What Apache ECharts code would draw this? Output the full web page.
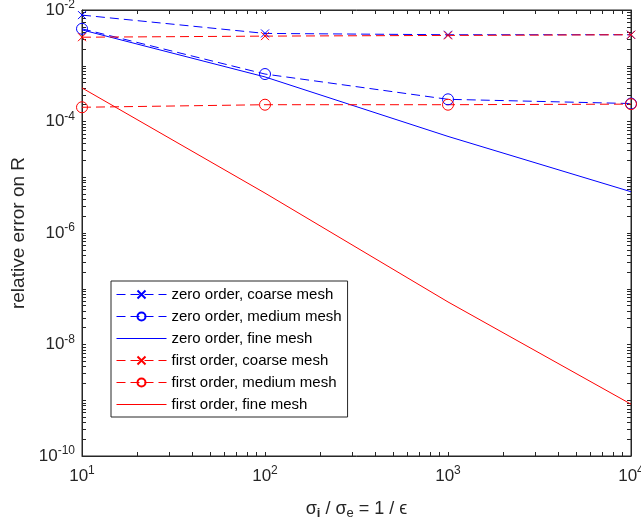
<!DOCTYPE html>
<html><head><meta charset="utf-8">
<script src="https://cdn.jsdelivr.net/npm/echarts@6/dist/echarts.min.js"></script>
<style>html,body{margin:0;padding:0;background:#fff;overflow:hidden}#c{width:641px;height:526px}</style>
</head><body><div id="c"></div>
<script>
// ---- data ----
const xValues = [10, 100, 1000, 10000];
const zeroCoarse  = [8.1e-3, 3.8e-3, 3.6e-3, 3.6e-3];
const zeroMedium  = [4.6e-3, 7.1e-4, 2.5e-4, 2.1e-4];
const zeroFine    = [4.4e-3, 6.3e-4, 5.4e-5, 5.5e-6];
const firstCoarse = [3.25e-3, 3.4e-3, 3.5e-3, 3.6e-3];
const firstMedium = [1.8e-4, 2.0e-4, 2.0e-4, 2.05e-4];
const firstFine   = [4.0e-4, 5.2e-6, 5.8e-8, 8.5e-10];
const seriesNames = ['zero order, coarse mesh','zero order, medium mesh','zero order, fine mesh',
                     'first order, coarse mesh','first order, medium mesh','first order, fine mesh'];
const yLabelExponents = [-10, -8, -6, -4, -2];
const xLabelExponents = [1, 2, 3, 4];
const minorMantissas = [1,2,3,4,5,6,7,8,9];
const xMin = 10, xMax = 10000, yMin = 1e-10, yMax = 1e-2;

const axisColor = '#262626';
const FONT = 'Liberation Sans, Arial, sans-serif';
const BLUE = '#0000ff', RED = '#ff0000';
const xMark = 'path://M0,0L10,10M10,0L0,10';
const dash = [9, 5];

// tick positions (1..9 x 10^n inside each decade)
const xTickValues = [], yTickValues = [];
for (let e = 1; e <= 4; e++) for (const m of minorMantissas) { const v = m * Math.pow(10, e); if (v <= xMax * 1.0001) xTickValues.push(v); }
for (let e = -10; e <= -2; e++) for (const m of minorMantissas) { const v = m * Math.pow(10, e); if (v <= yMax * 1.0001) yTickValues.push(v); }

function pairs(vals){ return xValues.map((x,i)=>[x, vals[i]]); }
function mkSeries(name, vals, color, marker, size){
  const s = {
    name, type:'line', data: pairs(vals), z: 3, xAxisIndex:0, yAxisIndex:0,
    lineStyle:{color, width:1, type: marker ? dash : 'solid'},
    itemStyle:{color:'rgba(0,0,0,0)', borderColor: color, borderWidth:1},
    emphasis:{disabled:true}, animation:false
  };
  if (marker){ s.symbol = marker; s.symbolSize = size; s.showSymbol = true; }
  else { s.symbol = 'none'; s.showSymbol = false; }
  return s;
}
const labRich = {
  b:{fontSize:17, fontFamily:FONT, color:axisColor},
  s:{fontSize:12, fontFamily:FONT, color:axisColor, padding:[0,0,10,0]}
};
const legendData = seriesNames.map((n, i) => (i === 2 || i === 5) ? {name:n, itemStyle:{opacity:0}} : {name:n});

const tickX = {show:true, inside:true, length:4, customValues:xTickValues, lineStyle:{color:axisColor, width:1}};
const tickY = {show:true, inside:true, length:4, customValues:yTickValues, lineStyle:{color:axisColor, width:1}};
const axLine = {show:true, lineStyle:{color:axisColor, width:1}};

const chart = echarts.init(document.getElementById('c'), null, {renderer:'canvas'});
chart.setOption({
  animation:false,
  grid:{left:82, right:10, top:10, bottom:70, outerBoundsMode:'none', containLabel:false,
        show:true, borderColor:axisColor, borderWidth:1, backgroundColor:'transparent'},
  xAxis:[{
    type:'log', logBase:10, min:xMin, max:xMax, position:'bottom',
    axisLine:axLine, axisTick:tickX, splitLine:{show:false}, minorTick:{show:false},
    axisLabel:{margin:9, formatter:(v)=>{const e=Math.round(Math.log10(v)); return xLabelExponents.includes(e)?'{b|10}{s|'+e+'}':'';}, rich:labRich},
    name:'{a|σ}{i|i}{a| / σ}{e|e}{a| = 1 / ϵ}', nameLocation:'middle', nameGap:42,
    nameTextStyle:{rich:{a:{fontSize:18, fontFamily:FONT, color:axisColor}, i:{fontSize:13, fontWeight:'bold', fontFamily:FONT, color:axisColor, padding:[9,0,0,0]}, e:{fontSize:13, fontFamily:FONT, color:axisColor, padding:[9,0,0,0]}}}
  },{
    type:'log', logBase:10, min:xMin, max:xMax, position:'top',
    axisLine:axLine, axisTick:tickX, axisLabel:{show:false}, splitLine:{show:false}, minorTick:{show:false}
  }],
  yAxis:[{
    type:'log', logBase:10, min:yMin, max:yMax, position:'left',
    axisLine:axLine, axisTick:tickY, splitLine:{show:false}, minorTick:{show:false},
    axisLabel:{margin:7, formatter:(v)=>{const e=Math.round(Math.log10(v)); return yLabelExponents.includes(e)?'{b|10}{s|'+e+'}':'';}, rich:labRich},
    name:'relative error on R', nameLocation:'middle', nameGap:52,
    nameTextStyle:{fontSize:19, fontFamily:FONT, color:axisColor}
  },{
    type:'log', logBase:10, min:yMin, max:yMax, position:'right',
    axisLine:axLine, axisTick:tickY, axisLabel:{show:false}, splitLine:{show:false}, minorTick:{show:false}
  }],
  legend:{
    data: legendData, orient:'vertical', left:111, top:281,
    backgroundColor:'#fff', borderColor:axisColor, borderWidth:1, borderRadius:0,
    padding:[6,6,5,5], itemWidth:50, itemHeight:10, itemGap:7, lineStyle:{width:1},
    textStyle:{fontSize:15, fontFamily:FONT, color:'#000'}, selectedMode:false
  },
  series:[
    mkSeries(seriesNames[0], zeroCoarse, BLUE, xMark, 8),
    mkSeries(seriesNames[1], zeroMedium, BLUE, 'circle', 11),
    mkSeries(seriesNames[2], zeroFine, BLUE, null),
    mkSeries(seriesNames[3], firstCoarse, RED, xMark, 8),
    mkSeries(seriesNames[4], firstMedium, RED, 'circle', 11),
    mkSeries(seriesNames[5], firstFine, RED, null)
  ]
});
</script></body></html>
